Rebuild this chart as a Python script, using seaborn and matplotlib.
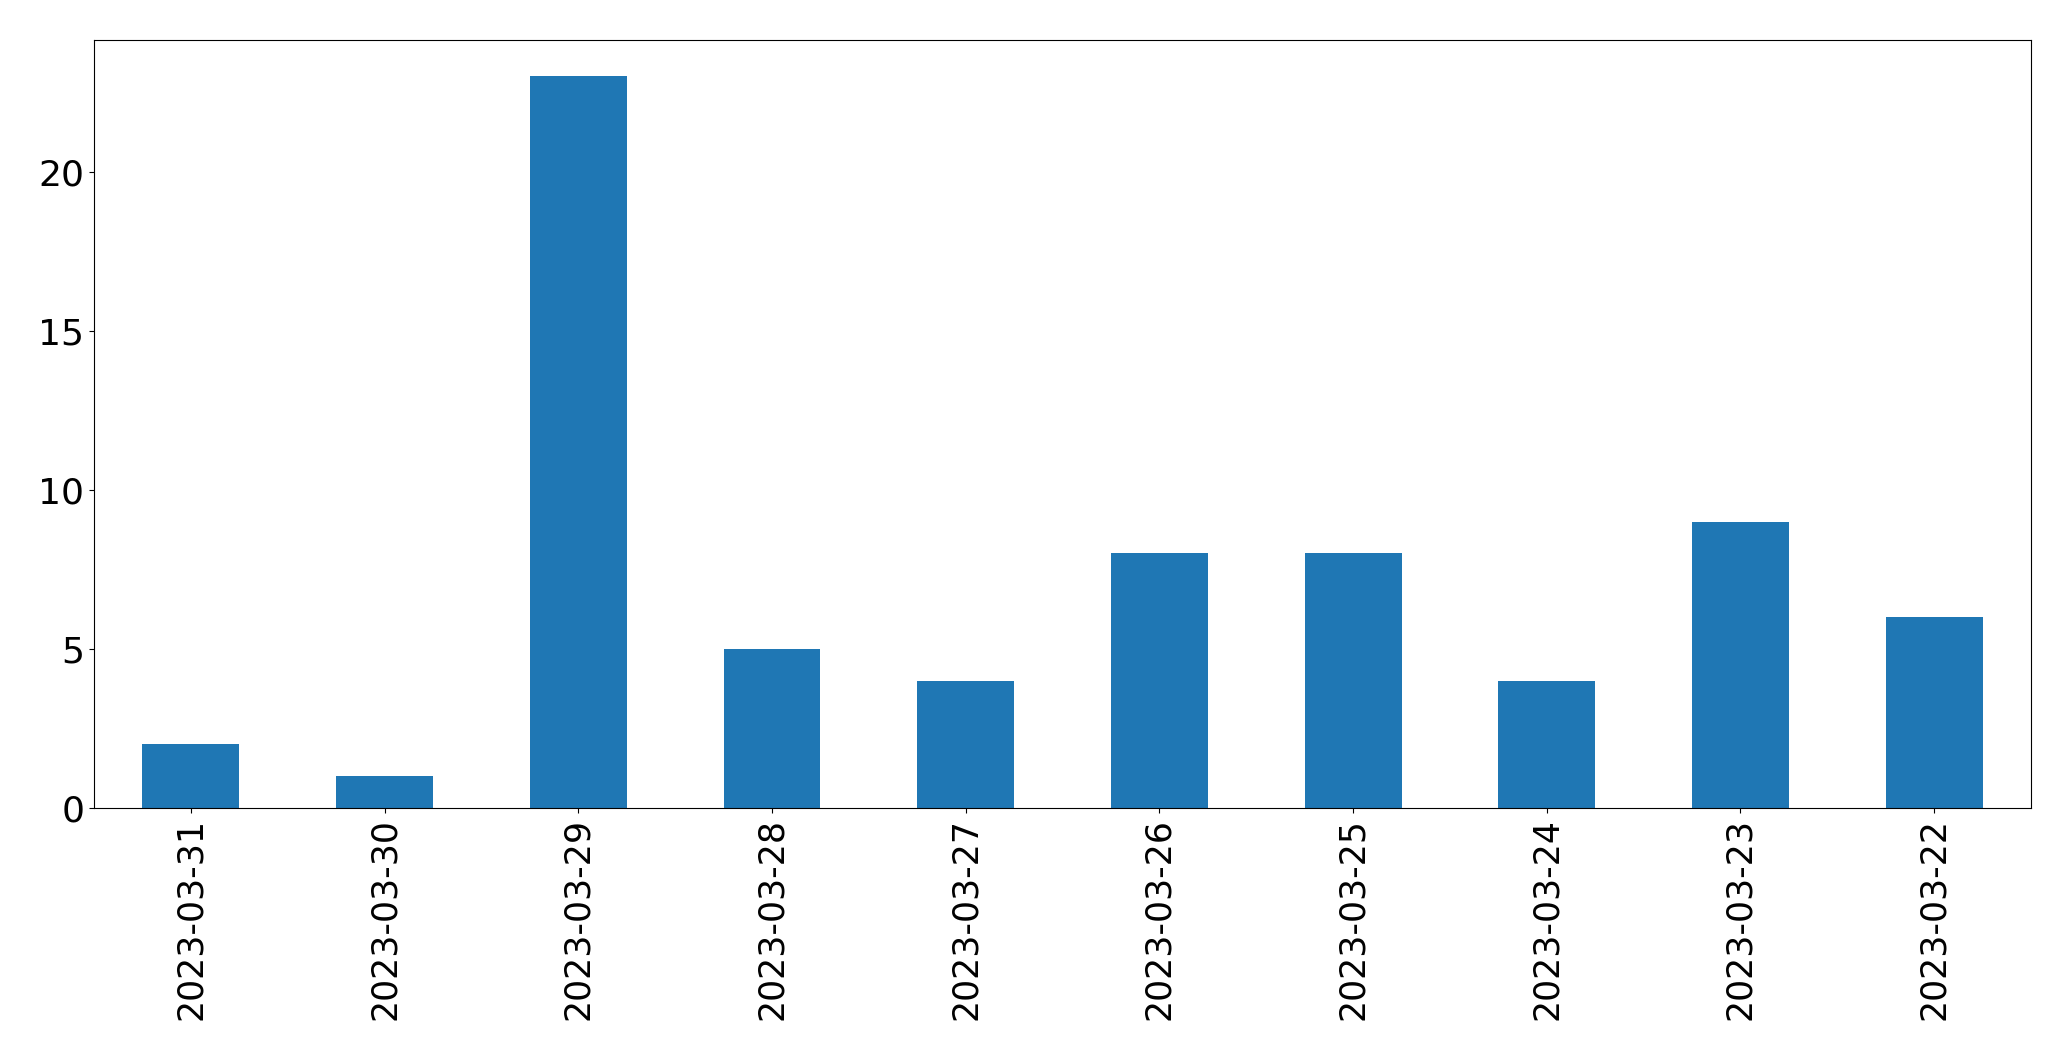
import pandas as pd
import matplotlib
matplotlib.use("Agg")
import matplotlib.pyplot as plt
import seaborn as sns

# Data
dates = ["2023-03-31", "2023-03-30", "2023-03-29", "2023-03-28", "2023-03-27",
         "2023-03-26", "2023-03-25", "2023-03-24", "2023-03-23", "2023-03-22"]
counts = [2, 1, 23, 5, 4, 8, 8, 4, 9, 6]

df = pd.DataFrame({"date": dates, "count": counts})

fig, ax = plt.subplots(figsize=(20.71, 10.61), dpi=100)
fig.subplots_adjust(left=0.0454, right=0.9807, top=0.9627, bottom=0.2385)

sns.barplot(data=df, x="date", y="count", order=dates, color="#1f77b4",
            saturation=1, width=0.5, ax=ax)

ax.set_xlabel("")
ax.set_ylabel("")
ax.tick_params(axis="y", labelsize=26)
ax.tick_params(axis="x", labelsize=25, labelrotation=90)

fig.savefig("out.png", dpi=100)
